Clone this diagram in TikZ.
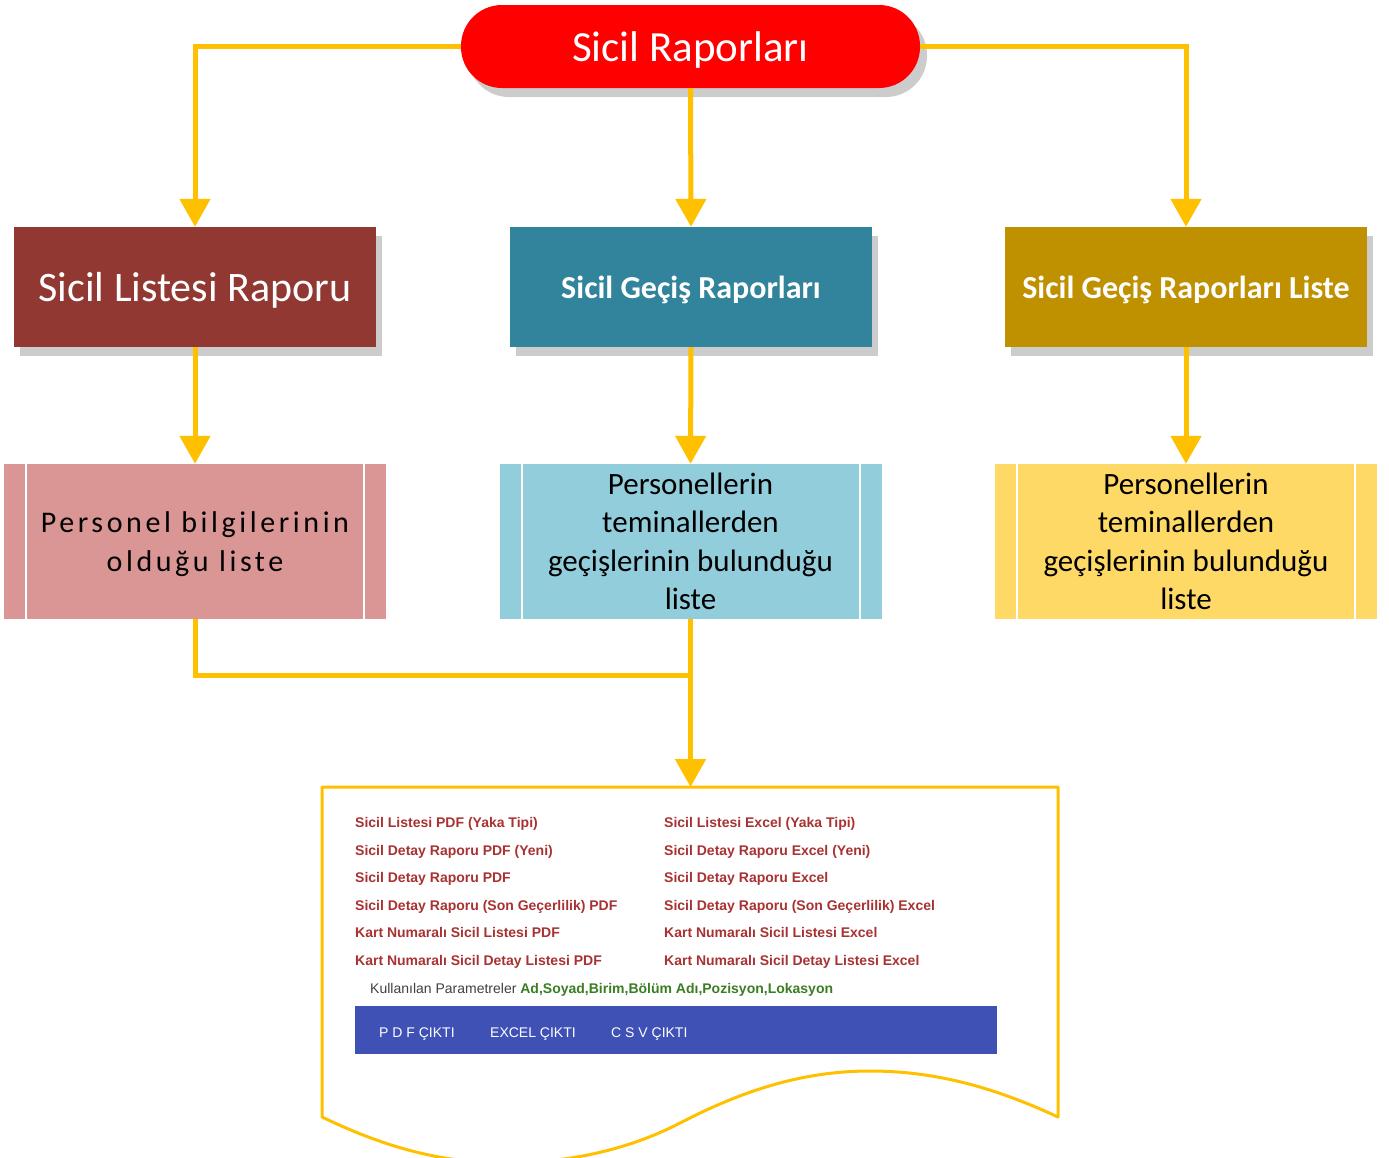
\documentclass[tikz,border=0pt]{standalone}
\usepackage{fontspec}
\setmainfont{Carlito}
\newfontfamily\arialfont{Liberation Sans}
\usetikzlibrary{positioning,arrows.meta,shadows}

\definecolor{arrowgold}{HTML}{FFC000}
\definecolor{rootred}{HTML}{FF0000}
\definecolor{slistred}{HTML}{923833}
\definecolor{gecisblue}{HTML}{31849B}
\definecolor{glistegold}{HTML}{BF9000}
\definecolor{plistpink}{HTML}{DA9694}
\definecolor{glistblue}{HTML}{92CDDC}
\definecolor{glisteyel}{HTML}{FFD966}
\definecolor{docred}{HTML}{A83232}
\definecolor{paramgreen}{HTML}{3B7D23}
\definecolor{bargrey}{HTML}{3F51B5}

\tikzset{
  conn/.style={draw=arrowgold, line width=5pt},
  tip/.style={-{Triangle[length=28pt,width=30pt]}},
  hdrbox/.style={rectangle, minimum width=362pt, minimum height=120pt,
    inner sep=0pt, text=white, text depth=0pt,
    drop shadow={shadow xshift=6pt, shadow yshift=-9pt, fill=black!40}},
  listbox/.style={rectangle, minimum width=382pt, minimum height=155pt,
    inner sep=0pt, align=center, font=\fontsize{31}{38.5}\selectfont,
    path picture={
      \draw[white, line width=2pt]
        ([xshift=22pt]path picture bounding box.north west) --
        ([xshift=22pt]path picture bounding box.south west)
        ([xshift=-22pt]path picture bounding box.north east) --
        ([xshift=-22pt]path picture bounding box.south east);
    }},
  doctext/.style={anchor=west, inner sep=0pt, text=docred,
    text height=10pt, text depth=3pt,
    font=\arialfont\bfseries\fontsize{14}{16}\selectfont},
  bartext/.style={anchor=west, inner sep=0pt, text=white,
    font=\arialfont\fontsize{14}{16}\selectfont},
}

\begin{document}
\begin{tikzpicture}[x=1pt, y=-1pt]
  \useasboundingbox (0,0) rectangle (1389,1157);

  % top node
  \node[rectangle, rounded corners=41pt, minimum width=459pt, minimum height=83pt,
    fill=rootred, text=white, text depth=0pt, font=\fontsize{43}{50}\selectfont,
    drop shadow={shadow xshift=7pt, shadow yshift=-9pt, fill=black!40}]
    (root) at (690.5,46.5) {Sicil Raporları};

  % second row
  \node[hdrbox, fill=slistred, font=\fontsize{42}{50}\selectfont]
    (slist) at (195,287) {Sicil Listesi Raporu};
  \node[hdrbox, fill=gecisblue, font=\bfseries\fontsize{32}{38}\selectfont]
    (sgecis) at (691,287) {Sicil Geçiş Raporları};
  \node[hdrbox, fill=glistegold, font=\bfseries\fontsize{32}{38}\selectfont]
    (sgliste) at (1186,287) {Sicil Geçiş Raporları Liste};

  % third row
  \node[listbox, fill=plistpink, text depth=0pt,
    font=\fontsize{30}{39}\selectfont\addfontfeature{LetterSpace=12}]
    (plist) at (195,541.5) {Personel bilgilerinin\\olduğu liste};
  \node[listbox, fill=glistblue]
    (glist) at (690.5,541.5) {Personellerin\\teminallerden\\geçişlerinin bulunduğu\\liste};
  \node[listbox, fill=glisteyel]
    (gllist) at (1186,541.5) {Personellerin\\teminallerden\\geçişlerinin bulunduğu\\liste};

  % connectors
  \draw[conn, tip] (root.west) -| (slist.north);
  \draw[conn, tip] (root.south) -- (sgecis.north);
  \draw[conn, tip] (root.east) -| (sgliste.north);
  \draw[conn, tip] (slist.south) -- (plist.north);
  \draw[conn, tip] (sgecis.south) -- (glist.north);
  \draw[conn, tip] (sgliste.south) -- (gllist.north);

  \coordinate (join) at (690.5,675);
  \coordinate (doctop) at (690.5,787);
  \draw[conn] (plist.south) |- (join);
  \draw[conn, tip] (glist.south) -- (doctop);

  % document shape
  \draw[arrowgold, line width=3pt, line join=round]
    (322,787) -- (1058,787) -- (1058,1117)
    .. controls (1000,1090) and (940,1071) .. (870,1071)
    .. controls (800,1071) and (740,1092) .. (680,1123)
    .. controls (630,1149) and (570,1163) .. (505,1163)
    .. controls (430,1163) and (370,1140) .. (322,1117) -- cycle;

  % report lists
  \foreach \t [count=\i] in {Sicil Listesi PDF (Yaka Tipi), Sicil Detay Raporu PDF (Yeni),
      Sicil Detay Raporu PDF, Sicil Detay Raporu (Son Geçerlilik) PDF,
      Kart Numaralı Sicil Listesi PDF, Kart Numaralı Sicil Detay Listesi PDF}
    \node[doctext] (pdf\i) at (355,{824+(\i-1)*27.5}) {\t};
  \foreach \t [count=\i] in {Sicil Listesi Excel (Yaka Tipi), Sicil Detay Raporu Excel (Yeni),
      Sicil Detay Raporu Excel, Sicil Detay Raporu (Son Geçerlilik) Excel,
      Kart Numaralı Sicil Listesi Excel, Kart Numaralı Sicil Detay Listesi Excel}
    \node[doctext] (xls\i) at (664,{824+(\i-1)*27.5}) {\t};

  \node[anchor=west, inner sep=0pt, text=black!75,
    font=\arialfont\fontsize{14}{16}\selectfont]
    (params) at (370,990) {Kullanılan Parametreler
      {\color{paramgreen}\bfseries Ad,Soyad,Birim,Bölüm Adı,Pozisyon,Lokasyon}};

  % output bar
  \node[rectangle, fill=bargrey, minimum width=642pt, minimum height=48pt,
    inner sep=0pt, anchor=north west] (bar) at (355,1006) {};
  \node[bartext] (pdfout) at (379,1034) {P D F ÇIKTI};
  \node[bartext] (xlsout) at (490,1034) {EXCEL ÇIKTI};
  \node[bartext] (csvout) at (611,1034) {C S V ÇIKTI};
\end{tikzpicture}
\end{document}
